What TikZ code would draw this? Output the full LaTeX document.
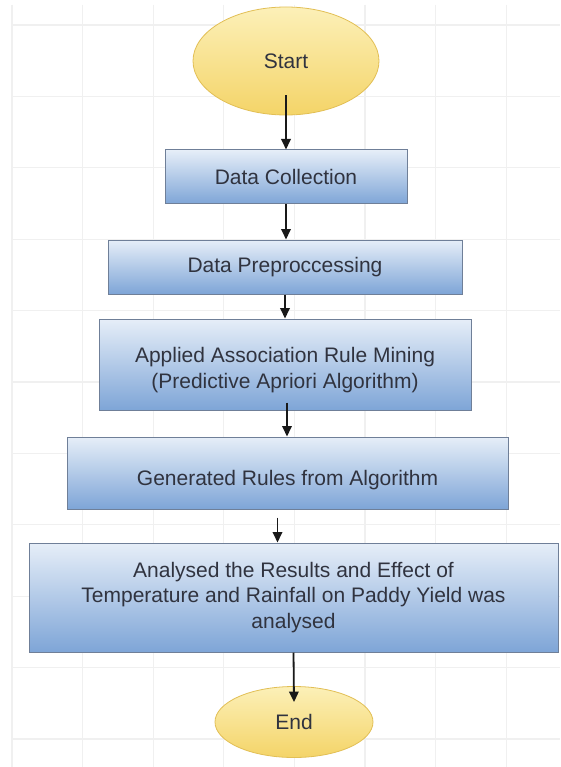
\documentclass[tikz,border=0pt]{standalone}
\usepackage{fontspec}
\setmainfont{Liberation Sans}
\usetikzlibrary{shapes.geometric,arrows.meta}
\definecolor{gridc}{HTML}{F0F0F0}
\definecolor{boxtop}{HTML}{E6EEF8}
\definecolor{boxbot}{HTML}{7EA5D7}
\definecolor{boxline}{HTML}{6F7F98}
\definecolor{elltop}{HTML}{FCF0B8}
\definecolor{ellbot}{HTML}{F4D468}
\definecolor{ellline}{HTML}{E2BF55}
\definecolor{txt}{HTML}{30333F}
\newcommand{\dropby}[2]{\raisebox{#1}[\height][\depth]{\begin{tabular}{@{}c@{}}#2\end{tabular}}}
\begin{document}
\begin{tikzpicture}[x=1pt,y=-1pt,
  procbox/.style={rectangle, draw=boxline, line width=1pt, top color=boxtop, bottom color=boxbot, inner sep=0pt, font=\fontsize{21}{25.5}\selectfont, text=txt, align=center},
  term/.style={ellipse, draw=ellline, line width=0.8pt, top color=elltop, bottom color=ellbot, inner sep=0pt, font=\fontsize{21}{25}\selectfont, text=txt},
  arr/.style={draw=black!90, line width=1.8pt, -{Triangle[width=9.5pt,length=10.5pt]}},
  gridline/.style={draw=gridc, line width=1.3pt}]
\useasboundingbox (0,0) rectangle (560,767);
\fill[white] (0,0) rectangle (560,767);
\foreach \i in {0,...,7} \draw[gridline] ({12+70.6*\i},5) -- ({12+70.6*\i},767);
\foreach \j in {0,...,10} \draw[gridline] (12,{25+71.4*\j}) -- (560,{25+71.4*\j});

\node[term, minimum width=186pt, minimum height=108pt] (start) at (286,61) {Start};
\node[procbox, minimum width=242pt, minimum height=54pt] (dc) at (286,177) {Data Collection};
\node[procbox, minimum width=354pt, minimum height=54pt] (dp) at (285,267) {Data Preproccessing};
\node[procbox, minimum width=372pt, minimum height=91pt] (app) at (285,364.5) {\dropby{-6pt}{\fontsize{21}{22}\selectfont Applied Association Rule Mining\\\fontsize{21}{22}\selectfont (Predictive Apriori Algorithm)}};
\node[procbox, minimum width=441pt, minimum height=72pt] (gen) at (287.5,473) {\dropby{-7pt}{Generated Rules from Algorithm}};
\node[procbox, minimum width=529pt, minimum height=109pt] (ana) at (293.5,597.5) {Analysed the Results and Effect of\\Temperature and Rainfall on Paddy Yield was\\analysed};
\node[term, minimum width=158pt, minimum height=71pt] (end) at (294,722) {End};

\draw[arr] ([yshift=20pt]start.south) -- (dc.north);
\draw[arr] (dc.south) -- (dc.south |- dp.north);
\draw[arr] (dp.south) -- (dp.south |- app.north);
\draw[arr] ([xshift=2pt,yshift=8pt]app.south) -- ([xshift=2pt]app.south |- gen.north);
\draw[arr] ([xshift=-10pt,yshift=-8pt]gen.south) -- ([xshift=-10pt]gen.south |- ana.north);
\draw[arr] (ana.south) -- ([yshift=-16pt]end.north);
\end{tikzpicture}
\end{document}
